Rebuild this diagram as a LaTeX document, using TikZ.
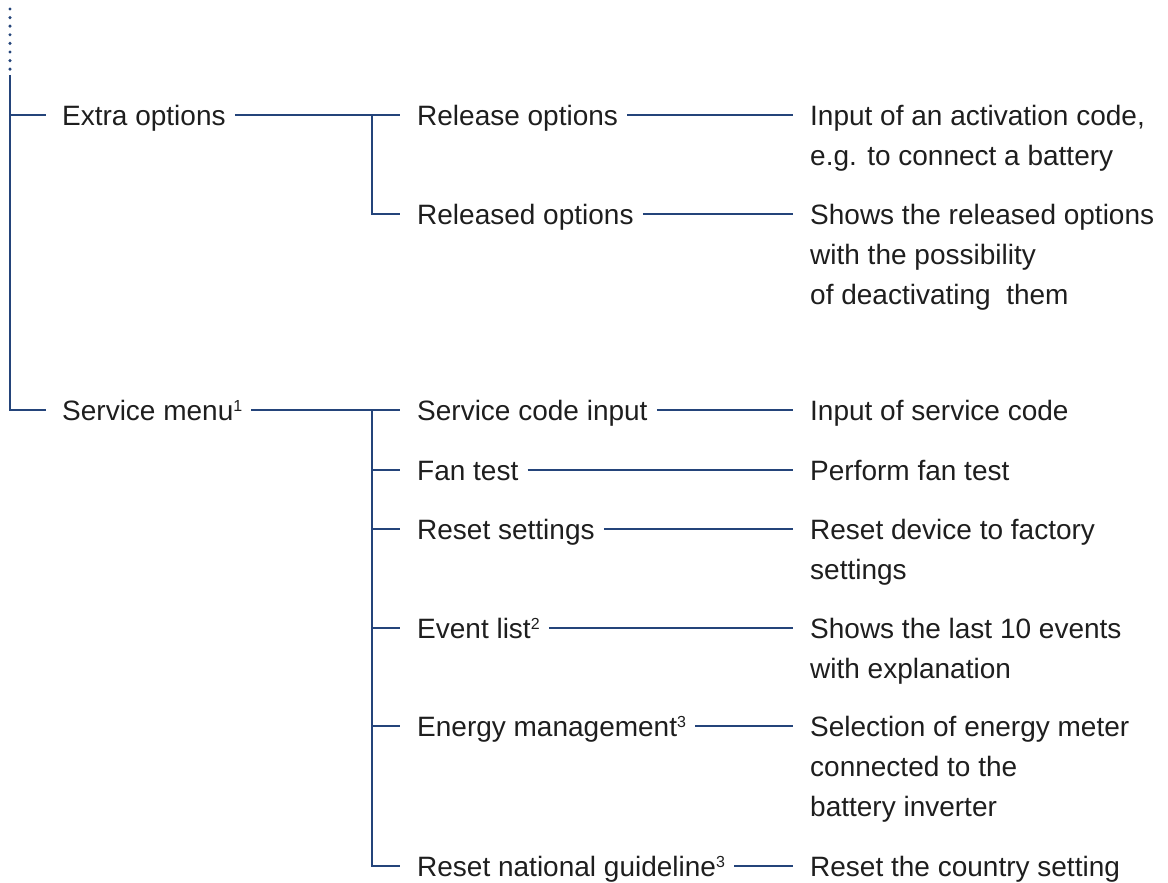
\documentclass[tikz,border=0pt]{standalone}
\usepackage{fontspec}
\setmainfont{Liberation Sans}
\definecolor{navy}{HTML}{24447A}
\definecolor{txt}{HTML}{1E1E1E}
\newcommand\diafont{\fontsize{28}{40}\selectfont}
\newcommand\lines[1]{\begin{tabular}[t]{@{}l@{}}#1\end{tabular}}
\newcommand\fnmark[1]{\raisebox{9pt}{\fontsize{16}{16}\selectfont #1}}
\begin{document}
\begin{tikzpicture}[x=1pt,y=-1pt,
  lbl/.style={anchor=base west, inner sep=0pt, font=\diafont, text=txt},
  link/.style={draw=navy, line width=2.8pt},
  dots/.style={draw=navy, line width=3.4pt, line cap=round, dash pattern=on 0pt off 8.6pt}]
\useasboundingbox (0,0) rectangle (1168,883);
% level 1
\node[lbl] (extra) at (62,125) {Extra options};
\node[lbl] (service) at (62,420) {Service menu\fnmark{1}};
% level 2
\node[lbl] (rel) at (417,125) {Release options};
\node[lbl] (reld) at (417,224) {Released options};
\node[lbl] (sci) at (417,420) {Service code input};
\node[lbl] (fan) at (417,480) {Fan test};
\node[lbl] (rs) at (417,539) {Reset settings};
\node[lbl] (ev) at (417,638) {Event list\fnmark{2}};
\node[lbl] (em) at (417,736) {Energy management\fnmark{3}};
\node[lbl] (rng) at (417,876) {Reset national guideline\fnmark{3}};
% descriptions
\node[lbl] (d1) at (810,125) {\lines{Input of an activation code,\\e.g. to connect a battery}};
\node[lbl] (d2) at (810,224) {\lines{Shows the released options\\with the possibility\\of deactivating\ \ them}};
\node[lbl] (d3) at (810,420) {Input of service code};
\node[lbl] (d4) at (810,480) {Perform fan test};
\node[lbl] (d5) at (810,539) {\lines{Reset device to factory\\settings}};
\node[lbl] (d6) at (810,638) {\lines{Shows the last 10 events\\with explanation}};
\node[lbl] (d7) at (810,736) {\lines{Selection of energy meter\\connected to the\\battery inverter}};
\node[lbl] (d8) at (810,876) {Reset the country setting};
% helper coordinates
\coordinate (dottop) at (10,9);
\coordinate (dotbot) at (10,72);
\coordinate (roottop) at (10,75);
\coordinate (jx) at (372,0);
% root
\draw[dots] (dottop) -- (dotbot);
\draw[link] (roottop) |- ([xshift=-16pt,yshift=10pt]service.base west);
\draw[link] ([yshift=10pt]roottop |- extra.base) -- ([xshift=-16pt,yshift=10pt]extra.base west);
% level1 -> junction
\draw[link] ([xshift=9pt,yshift=10pt]extra.base east) -- ([xshift=-17pt,yshift=10pt]rel.base west);
\draw[link] ([xshift=9pt,yshift=10pt]service.base east) -- ([xshift=-17pt,yshift=10pt]sci.base west);
% junction verticals
\draw[link] ([yshift=10pt]jx |- rel.base) |- ([xshift=-17pt,yshift=10pt]reld.base west);
\draw[link] ([yshift=10pt]jx |- sci.base) |- ([xshift=-17pt,yshift=10pt]rng.base west);
\foreach \n in {fan,rs,ev,em}
  \draw[link] ([yshift=10pt]jx |- \n.base) -- ([xshift=-17pt,yshift=10pt]\n.base west);
% level2 -> descriptions
\foreach \a/\b in {rel/d1,reld/d2,sci/d3,fan/d4,rs/d5,ev/d6,em/d7,rng/d8}
  \draw[link] ([xshift=9pt,yshift=10pt]\a.base east) -- ([xshift=-17pt,yshift=10pt]\a.base west -| \b.west);
\end{tikzpicture}
\end{document}
